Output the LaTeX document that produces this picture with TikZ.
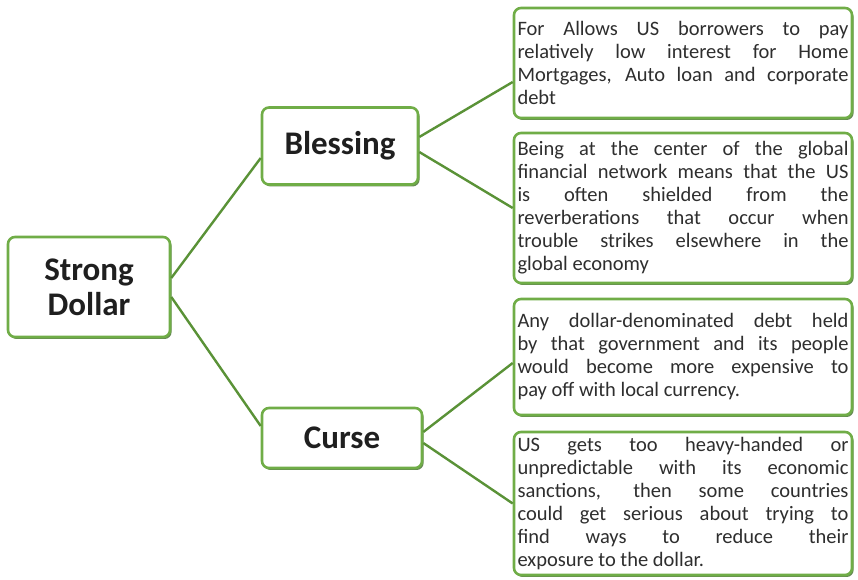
\documentclass[tikz,border=0pt]{standalone}
\usepackage{fontspec}
\setmainfont{Carlito}
\usetikzlibrary{shadows}
\definecolor{gborder}{HTML}{70AD47}
\definecolor{gline}{HTML}{5A9237}
\definecolor{gshadow}{HTML}{3E6B28}
\tikzset{
  boxbase/.style={draw=gborder, line width=2.6pt, rounded corners=7pt, fill=white,
    drop shadow={shadow xshift=1.6pt, shadow yshift=-2pt, fill=gshadow, opacity=0.8}},
  titlebox/.style={boxbase, font=\fontsize{33}{35}\selectfont\bfseries, text=black!88, align=center},
  infobox/.style={boxbase, minimum width=338pt, text width=331pt, inner sep=3pt,
    font=\fontsize{20.5}{23}\selectfont, text=black!82, align=justify},
  conn/.style={draw=gline, line width=2.4pt}
}
\begin{document}
\begin{tikzpicture}[x=1pt,y=1pt]
\useasboundingbox (0,0) rectangle (858,580);
\node[titlebox, minimum width=162pt, minimum height=100pt] (sd) at (89,293) {Strong\\Dollar};
\node[titlebox, minimum width=156pt, minimum height=77pt] (bl) at (340,434) {Blessing};
\node[titlebox, minimum width=160pt, minimum height=60pt] (cu) at (342,142) {Curse};
\node[infobox, minimum height=110pt] (b1) at (683,517) {For Allows US borrowers to pay\linebreak relatively low interest for Home\linebreak Mortgages, Auto loan and corporate\linebreak debt};
\node[infobox, minimum height=150pt] (b2) at (683,372) {Being at the center of the global\linebreak financial network means that the US\linebreak is often shielded from the\linebreak reverberations that occur when\linebreak trouble strikes elsewhere in the\linebreak global economy};
\node[infobox, minimum height=116pt] (b3) at (683,223) {Any dollar-denominated debt held\linebreak by that government and its people\linebreak would become more expensive to\linebreak pay off with local currency.};
\node[infobox, minimum height=143pt] (b4) at (683,76.5) {US gets too heavy-handed or\linebreak unpredictable with its economic\linebreak sanctions, then some countries\linebreak could get serious about trying to\linebreak find ways to reduce their\linebreak exposure to the dollar.};
\draw[conn] ([yshift=9pt]sd.east) -- ([yshift=-12pt]bl.west);
\draw[conn] ([yshift=-10pt]sd.east) -- ([yshift=12pt]cu.west);
\draw[conn] ([yshift=9pt]bl.east) -- ([yshift=-19pt]b1.west);
\draw[conn] ([yshift=-6pt]bl.east) -- (b2.west);
\draw[conn] ([yshift=6pt]cu.east) -- ([yshift=-6pt]b3.west);
\draw[conn] ([yshift=-5pt]cu.east) -- (b4.west);
\end{tikzpicture}
\end{document}
